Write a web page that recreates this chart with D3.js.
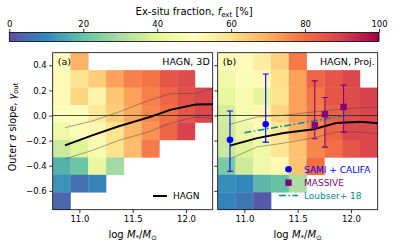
<!DOCTYPE html>
<html>
<head>
<meta charset="utf-8">
<script src="https://d3js.org/d3.v7.min.js"></script>
<style>
  body { margin: 0; background: #fff; }
  svg { display: block; font-family: "DejaVu Sans", sans-serif; }
</style>
</head>
<body>
<script>
// ---- data ----
var massRange = [10.75, 12.25];
var slopeRange = [-0.75, 0.5];
var nBins = 9;

// ex-situ fraction [%] per cell, rows from top (high slope) to bottom
var fext3D = [
  [50, 69, null, null, null, null, null, null, null],
  [52, 59, 64, 72, 77, 79, 85, 87, null],
  [52, 62, 54, 65, 72, 77, 82, 86, 88],
  [49, 51, 57, 64, 71, 76, 80, 85, 88],
  [44, 48, 53, 59, 68, 74, 82, 89, null],
  [35, 39, 46, 59, 67, 78, null, null, null],
  [17, 21, 42, 29, null, null, null, null, null],
  [12, 6, 9, null, null, null, null, null, null],
  [4, null, null, null, null, null, null, null, null]
];
var fextProj = [
  [49, 51, 56, 63, 78, null, null, null, null],
  [44, 48, 52, 60, 72, 82, 85, 88, null],
  [42, 47, 40, 59, 72, 79, 85, 87, 89],
  [37, 46, 53, 62, 72, 78, 83, 87, 88],
  [36, 43, 51, 58, 69, 76, 82, 88, 88],
  [35, 39, 44, 58, 66, 76, 80, 85, 88],
  [23, 36, 44, 52, 66, 80, null, null, null],
  [11, 10, 18, 20, 30, null, null, null, null],
  [9, 7, 2, null, null, null, null, null, null]
];

// HAGN median and 16/84 percentiles
var hagnMass = [10.865, 11.12, 11.37, 11.65, 11.86, 12.09, 12.3];
var med3D = [-0.238, -0.158, -0.086, -0.015, 0.047, 0.087, 0.09];
var up3D = [-0.097, -0.044, 0.028, 0.12, 0.175, 0.175, 0.23];
var lo3D = [-0.345, -0.278, -0.198, -0.13, -0.06, -0.012, -0.03];
var medProj = [-0.24, -0.18, -0.14, -0.11, -0.06, -0.05, -0.065];
var upProj = [-0.07, -0.012, 0.002, 0.028, 0.047, 0.063, 0.07];
var loProj = [-0.345, -0.25, -0.22, -0.178, -0.132, -0.132, -0.15];

// observations
var samiMass = [10.865, 11.2];
var samiSlope = [-0.193, -0.07];
var samiLo = [-0.444, -0.212];
var samiHi = [0.036, 0.33];
var massiveMass = [11.66, 11.755, 11.93];
var massiveSlope = [-0.078, 0.010, 0.068];
var massiveLo = [-0.185, -0.252, -0.132];
var massiveHi = [0.276, 0.143, 0.242];
var loubserMass = [11.0, 12.0];
var loubserSlope = [-0.137, 0.007];

var massTicks = [11.0, 11.5, 12.0];
var slopeTicks = [-0.6, -0.4, -0.2, 0.0, 0.2, 0.4];
var cbTicks = [0, 20, 40, 60, 80, 100];

// ---- drawing ----
var svg = d3.select("body").append("svg")
    .attr("width", 394)
    .attr("height", 246);

var pw = 160, ph = 157, panelTop = 52.7;

var spectral = ["#5e4fa2","#3288bd","#66c2a5","#abdda4","#e6f598","#ffffbf",
                "#fee08b","#fdae61","#f46d43","#d53e4f","#9e0142"];
var color = d3.scaleLinear()
    .domain(d3.range(0, 101, 10))
    .range(spectral)
    .interpolate(d3.interpolateRgb);

var x = d3.scaleLinear().domain(massRange).range([0, pw]);
var y = d3.scaleLinear().domain(slopeRange).range([ph, 0]);
var dm = (massRange[1] - massRange[0]) / nBins;
var ds = (slopeRange[1] - slopeRange[0]) / nBins;

var fmt = d3.format(".1f");

var panels = [
  {id: "a", x0: 52.7, grid: fext3D, med: med3D, up: up3D, lo: lo3D, title: "HAGN, 3D"},
  {id: "b", x0: 217.7, grid: fextProj, med: medProj, up: upProj, lo: loProj, title: "HAGN, Proj."}
];

var line = d3.line()
    .x(function(d) { return x(d[0]); })
    .y(function(d) { return y(d[1]); });

panels.forEach(function(p, k) {
  var g = svg.append("g").attr("transform", "translate(" + p.x0 + "," + panelTop + ")");

  g.append("clipPath").attr("id", "clip" + p.id)
    .append("rect").attr("width", pw).attr("height", ph);

  var plot = g.append("g").attr("clip-path", "url(#clip" + p.id + ")");

  // heat map cells
  var cells = [];
  p.grid.forEach(function(row, r) {
    row.forEach(function(v, c) {
      if (v !== null) cells.push({r: r, c: c, v: v});
    });
  });
  plot.selectAll("rect.cell").data(cells).enter().append("rect")
    .attr("class", "cell")
    .attr("x", function(d) { return x(massRange[0] + d.c * dm); })
    .attr("width", function(d) { return x(massRange[0] + (d.c + 1) * dm) - x(massRange[0] + d.c * dm) + 0.3; })
    .attr("y", function(d) { return y(slopeRange[1] - d.r * ds); })
    .attr("height", function(d) { return y(slopeRange[1] - (d.r + 1) * ds) - y(slopeRange[1] - d.r * ds) + 0.3; })
    .attr("fill", function(d) { return color(d.v); });

  // zero line
  plot.append("line")
    .attr("x1", 0).attr("x2", pw)
    .attr("y1", y(0)).attr("y2", y(0))
    .attr("stroke", "#222").attr("stroke-width", 0.8);

  // percentiles
  [p.up, p.lo].forEach(function(arr) {
    plot.append("path")
      .attr("d", line(d3.zip(hagnMass, arr)))
      .attr("fill", "none").attr("stroke", "#444")
      .attr("stroke-width", 0.6).attr("opacity", 0.8);
  });
  plot.append("path")
    .attr("d", line(d3.zip(hagnMass, p.med)))
    .attr("fill", "none").attr("stroke", "#000").attr("stroke-width", 2);

  if (k === 1) {
    // Loubser+18
    plot.append("path")
      .attr("d", line(d3.zip(loubserMass, loubserSlope)))
      .attr("fill", "none").attr("stroke", "darkcyan")
      .attr("stroke-width", 1.5).attr("stroke-dasharray", "7,2.5,1.5,2.5");

    // error bars
    function errbars(mass, val, lo, hi, col) {
      var eg = plot.append("g").attr("stroke", col).attr("stroke-width", 1.1);
      mass.forEach(function(m, i) {
        eg.append("line").attr("x1", x(m)).attr("x2", x(m)).attr("y1", y(lo[i])).attr("y2", y(hi[i]));
        [lo[i], hi[i]].forEach(function(v) {
          eg.append("line").attr("x1", x(m) - 3).attr("x2", x(m) + 3).attr("y1", y(v)).attr("y2", y(v));
        });
      });
    }
    errbars(samiMass, samiSlope, samiLo, samiHi, "blue");
    errbars(massiveMass, massiveSlope, massiveLo, massiveHi, "purple");

    plot.selectAll("circle.sami").data(d3.zip(samiMass, samiSlope)).enter().append("circle")
      .attr("cx", function(d) { return x(d[0]); })
      .attr("cy", function(d) { return y(d[1]); })
      .attr("r", 3.3).attr("fill", "blue");
    plot.selectAll("rect.massive").data(d3.zip(massiveMass, massiveSlope)).enter().append("rect")
      .attr("x", function(d) { return x(d[0]) - 3.2; })
      .attr("y", function(d) { return y(d[1]) - 3.2; })
      .attr("width", 6.4).attr("height", 6.4).attr("fill", "purple");
  }

  // axes
  var xa = g.append("g").attr("transform", "translate(0," + ph + ")")
    .call(d3.axisBottom(x).tickValues(massTicks).tickFormat(fmt).tickSize(3.5).tickPadding(2.5));
  var ya = g.append("g")
    .call(d3.axisLeft(y).tickValues(slopeTicks).tickFormat(k === 0 ? fmt : "").tickSize(3.5).tickPadding(2.5));
  [xa, ya].forEach(function(a) {
    a.select(".domain").remove();
    a.selectAll("text").attr("font-size", "8.5px").attr("font-family", "DejaVu Sans").attr("fill", "#000");
    a.selectAll("line").attr("stroke-width", 0.8);
  });

  g.append("rect").attr("width", pw).attr("height", ph)
    .attr("fill", "none").attr("stroke", "#000").attr("stroke-width", 0.8);

  // panel annotations
  g.append("text").attr("x", 5).attr("y", 12.5).attr("font-size", "9.5px").text("(" + p.id + ")");
  g.append("text").attr("x", pw - 3).attr("y", 12.5).attr("font-size", "9.5px")
    .attr("text-anchor", "end").text(p.title);

  // x label
  var xl = g.append("text").attr("x", pw / 2).attr("y", ph + 28)
    .attr("text-anchor", "middle").attr("font-size", "10px");
  xl.append("tspan").text("log ");
  xl.append("tspan").attr("font-style", "italic").text("M");
  xl.append("tspan").attr("font-size", "7px").attr("dy", 2).text("*");
  xl.append("tspan").attr("dy", -2).text("/");
  xl.append("tspan").attr("font-style", "italic").text("M");
  xl.append("tspan").attr("font-size", "7px").attr("dy", 2).text("\u2299");
});

// legends
var la = svg.append("g").attr("font-size", "9px");
la.append("line").attr("x1", 153).attr("x2", 167).attr("y1", 196).attr("y2", 196)
  .attr("stroke", "#000").attr("stroke-width", 2);
la.append("text").attr("x", 173).attr("y", 199.2).text("HAGN");

var lb = svg.append("g").attr("font-size", "9px");
lb.append("circle").attr("cx", 288.5).attr("cy", 169.3).attr("r", 3.3).attr("fill", "blue");
lb.append("text").attr("x", 304).attr("y", 172.5).attr("fill", "blue").text("SAMI + CALIFA");
lb.append("rect").attr("x", 285.3).attr("y", 179.5).attr("width", 6.4).attr("height", 6.4).attr("fill", "purple");
lb.append("text").attr("x", 304).attr("y", 185.9).attr("fill", "purple").text("MASSIVE");
lb.append("line").attr("x1", 279).attr("x2", 298).attr("y1", 195.5).attr("y2", 195.5)
  .attr("stroke", "darkcyan").attr("stroke-width", 1.5).attr("stroke-dasharray", "7,2.5,1.5,2.5");
lb.append("text").attr("x", 304).attr("y", 198.7).attr("fill", "darkcyan").text("Loubser+ 18");

// y label
var yl = svg.append("text")
  .attr("transform", "translate(16,127) rotate(-90)")
  .attr("text-anchor", "middle").attr("font-size", "9.7px");
yl.append("tspan").text("Outer ");
yl.append("tspan").attr("font-style", "italic").text("\u03c3");
yl.append("tspan").text(" slope, ");
yl.append("tspan").attr("font-style", "italic").text("\u03b3");
yl.append("tspan").attr("font-size", "6.8px").attr("dy", 2).text("out");

// colour bar
var cbx0 = 9.3, cbw = 369.7, cby = 32.5, cbh = 9;
var cb = d3.scaleLinear().domain([0, 100]).range([0, cbw]);
var grad = svg.append("defs").append("linearGradient").attr("id", "cbgrad");
d3.range(0, 101, 2).forEach(function(v) {
  grad.append("stop").attr("offset", v + "%").attr("stop-color", color(v));
});
var cg = svg.append("g").attr("transform", "translate(" + cbx0 + "," + cby + ")");
cg.append("rect").attr("width", cbw).attr("height", cbh).attr("fill", "url(#cbgrad)")
  .attr("stroke", "#000").attr("stroke-width", 0.8);
var ca = cg.append("g").call(d3.axisTop(cb).tickValues(cbTicks).tickSize(3.5).tickPadding(2));
ca.select(".domain").remove();
ca.selectAll("text").attr("font-size", "8.5px").attr("font-family", "DejaVu Sans").attr("fill", "#000");
ca.selectAll("line").attr("stroke-width", 0.8);

var ct = svg.append("text").attr("x", cbx0 + cbw / 2).attr("y", 14.5)
  .attr("text-anchor", "middle").attr("font-size", "10px");
ct.append("tspan").text("Ex-situ fraction, ");
ct.append("tspan").attr("font-style", "italic").text("f");
ct.append("tspan").attr("font-size", "7px").attr("dy", 2).text("ext");
ct.append("tspan").attr("dy", -2).text(" [%]");
</script>
</body>
</html>
